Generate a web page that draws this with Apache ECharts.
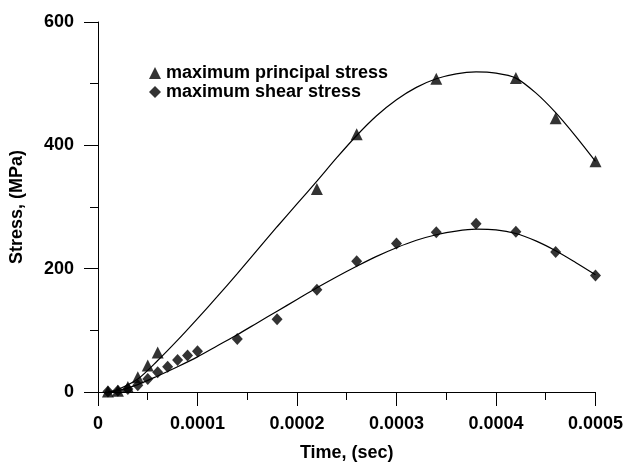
<!DOCTYPE html>
<html>
<head>
<meta charset="utf-8">
<script src="https://cdn.jsdelivr.net/npm/echarts@6/dist/echarts.min.js"></script>
<style>
  html, body { margin: 0; padding: 0; background: #fff; }
  #chart { width: 626px; height: 467px; }
</style>
</head>
<body>
<div id="chart"></div>
<script>
// measured points
const principalTime = [0.00001, 0.00002, 0.00003, 0.00004, 0.00005, 0.00006, 0.00022, 0.00026, 0.00034, 0.00042, 0.00046, 0.0005]
const principalStress = [1, 2, 8, 24, 43, 64, 329, 418, 508, 509, 444, 374]

const shearTime = [0.00001, 0.00002, 0.00003, 0.00004, 0.00005, 0.00006, 0.00007, 0.00008, 0.00009, 0.0001,
  0.00014, 0.00018, 0.00022, 0.00026, 0.0003, 0.00034, 0.00038, 0.00042, 0.00046, 0.0005]
const shearStress = [1, 2, 5, 11, 21, 32, 41, 52, 59, 66, 86, 118, 166, 212, 241, 259, 273, 260, 227, 189]

// fitted curves
const fitTime = [0.00001, 0.00002, 0.00004, 0.00006, 0.00008, 0.0001, 0.00012, 0.00014, 0.00016, 0.00018,
  0.0002, 0.00022, 0.00024, 0.00026, 0.00028, 0.0003, 0.00032, 0.00034, 0.00036, 0.00038,
  0.0004, 0.00042, 0.00044, 0.00046, 0.00048, 0.0005]
const principalFit = [0, 4, 21, 51, 84, 119, 155, 192, 230, 268,
  305, 342, 380, 416, 448, 474, 494, 508, 516, 519,
  517, 509, 485, 453, 415, 374]
const shearFit = [0, 2, 12, 26, 41, 57, 75, 93, 112, 131,
  150, 169, 187, 204, 220, 234, 246, 255, 261, 264,
  263, 257, 245, 229, 210, 190]

const zip = (xs, ys) => xs.map((x, i) => [x, ys[i]])

const font = 'Liberation Sans, Arial, Helvetica, sans-serif'
const black = '#000'

const chart = echarts.init(document.getElementById('chart'))
chart.setOption({
  animation: false,
  grid: { left: 98, right: 28, top: 22, bottom: 72 },
  legend: {
    data: ['maximum principal stress', 'maximum shear stress'],
    orient: 'vertical',
    left: 144,
    top: 59,
    itemWidth: 12,
    itemHeight: 12,
    itemGap: 1,
    textStyle: { color: black, fontSize: 18, fontWeight: 'bold', fontFamily: font },
  },
  xAxis: {
    type: 'value',
    min: 0,
    max: 0.0005,
    interval: 0.0001,
    name: 'Time, (sec)',
    nameLocation: 'middle',
    nameGap: 52,
    nameTextStyle: { color: black, fontSize: 18, fontWeight: 'bold', fontFamily: font },
    axisLine: { show: true, lineStyle: { color: black, width: 1 } },
    axisTick: { show: true, length: 14, lineStyle: { color: black } },
    minorTick: { show: true, splitNumber: 2, length: 8, lineStyle: { color: black } },
    splitLine: { show: false },
    axisLabel: {
      color: black, fontSize: 18, fontWeight: 'bold', fontFamily: font, margin: 23,
      formatter: (v) => (v === 0 ? '0' : v.toFixed(4)),
    },
  },
  yAxis: {
    type: 'value',
    min: 0,
    max: 600,
    interval: 200,
    name: 'Stress, (MPa)',
    nameLocation: 'middle',
    nameGap: 72,
    nameTextStyle: { color: black, fontSize: 18, fontWeight: 'bold', fontFamily: font },
    axisLine: { show: true, lineStyle: { color: black, width: 1 } },
    axisTick: { show: true, length: 14, lineStyle: { color: black } },
    minorTick: { show: true, splitNumber: 2, length: 8, lineStyle: { color: black } },
    splitLine: { show: false },
    axisLabel: { color: black, fontSize: 18, fontWeight: 'bold', fontFamily: font, margin: 24 },
  },
  series: [
    {
      name: 'principal fit',
      type: 'line',
      data: zip(fitTime, principalFit),
      smooth: 0.3,
      showSymbol: false,
      lineStyle: { color: black, width: 1.2 },
      z: 1,
    },
    {
      name: 'shear fit',
      type: 'line',
      data: zip(fitTime, shearFit),
      smooth: 0.3,
      showSymbol: false,
      lineStyle: { color: black, width: 1.2 },
      z: 1,
    },
    {
      name: 'maximum principal stress',
      type: 'scatter',
      data: zip(principalTime, principalStress),
      symbol: 'triangle',
      symbolSize: 12,
      itemStyle: { color: black },
      z: 3,
    },
    {
      name: 'maximum shear stress',
      type: 'scatter',
      data: zip(shearTime, shearStress),
      symbol: 'diamond',
      symbolSize: [11, 12],
      itemStyle: { color: black },
      z: 4,
    },
  ],
})
</script>
</body>
</html>
